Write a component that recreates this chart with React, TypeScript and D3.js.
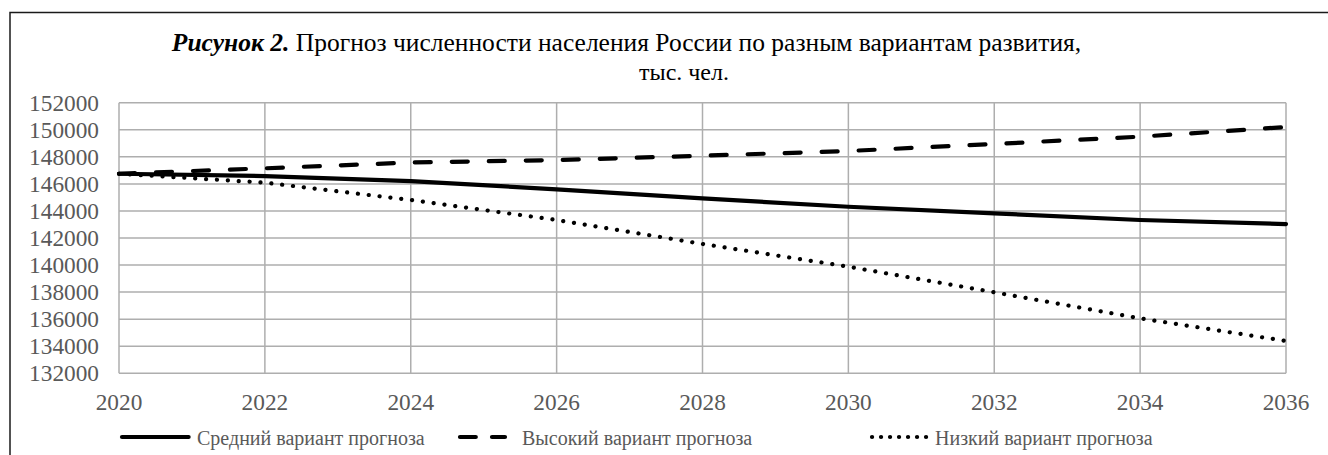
import React from "react";
import * as d3 from "d3";

// годы и значения, тыс. чел.
const years = [2020, 2022, 2024, 2026, 2028, 2030, 2032, 2034, 2036];
const medium = [146750, 146580, 146210, 145600, 144930, 144310, 143820, 143330, 143030];
const high = [146750, 147150, 147580, 147760, 148080, 148430, 148950, 149490, 150200];
const low = [146750, 146090, 144810, 143330, 141560, 139880, 137990, 136060, 134390];

const yTicks = [132000, 134000, 136000, 138000, 140000, 142000, 144000, 146000, 148000, 150000, 152000];
const xTicks = [2020, 2022, 2024, 2026, 2028, 2030, 2032, 2034, 2036];

const titleBold = "Рисунок 2.";
const titleRest = " Прогноз численности населения России по разным вариантам развития,";
const titleLine2 = "тыс. чел.";

const legendItems = [
  { name: "Средний вариант прогноза", dash: null },
  { name: "Высокий вариант прогноза", dash: "dash" },
  { name: "Низкий вариант прогноза", dash: "dot" },
];

const W = 1328;
const H = 455;
const FONT = '"Liberation Serif", "Times New Roman", Tinos, "DejaVu Serif", serif';

const dashStyle = (d: string | null) =>
  d === "dash" ? "16 21" : d === "dot" ? "0.1 10.8" : undefined;

export default function App() {
  const x = d3.scaleLinear().domain([2020, 2036]).range([119, 1286]);
  const y = d3.scaleLinear().domain([132000, 152000]).range([373.3, 102.7]);

  const line = d3
    .line<number>()
    .x((_, i) => x(years[i]))
    .y((v) => y(v));

  const series = [
    { values: medium, dash: null },
    { values: high, dash: "dash" },
    { values: low, dash: "dot" },
  ];

  // легенда: отрезок-образец и подпись
  const legend = [
    { x1: 122, x2: 188.6, text: 197, dash: undefined },
    { x1: 460, x2: 505, text: 522, dash: "15.8 16.2" },
    { x1: 872, x2: 926.1, text: 935, dash: "0.1 8.9" },
  ];
  const legendY = 437;

  return (
    <svg
      width={W}
      height={H}
      style={{ position: "absolute", left: 0, top: 0, background: "#fff", fontFamily: FONT }}
    >
      <rect x={10} y={12.5} width={W} height={H} fill="#fff" stroke="#1a1a1a" strokeWidth={1.5} />

      <text x={626.5} y={51} textAnchor="middle" fontSize={25.5} fill="#000">
        <tspan fontWeight="bold" fontStyle="italic">{titleBold}</tspan>
        <tspan>{titleRest}</tspan>
      </text>
      <text x={684} y={80} textAnchor="middle" fontSize={24} fill="#000">
        {titleLine2}
      </text>

      {/* сетка */}
      <g stroke="#aeaeae" strokeWidth={1.5}>
        {yTicks.map((t) => (
          <line key={t} x1={x(2020)} x2={x(2036)} y1={y(t)} y2={y(t)} />
        ))}
        {xTicks.map((t) => (
          <line key={t} x1={x(t)} x2={x(t)} y1={y(132000)} y2={y(152000)} />
        ))}
      </g>

      <g fill="#595959" fontSize={23.3}>
        {yTicks.map((t) => (
          <text key={t} x={99} y={y(t) + 8} textAnchor="end">
            {t}
          </text>
        ))}
        {xTicks.map((t) => (
          <text key={t} x={x(t)} y={410} textAnchor="middle">
            {t}
          </text>
        ))}
      </g>

      {series.map((s, i) => (
        <path
          key={i}
          d={line(s.values) || ""}
          fill="none"
          stroke="#000"
          strokeWidth={4.2}
          strokeLinecap="round"
          strokeLinejoin="round"
          strokeDasharray={dashStyle(s.dash)}
        />
      ))}

      {legendItems.map((it, i) => (
        <g key={it.name}>
          <line
            x1={legend[i].x1}
            x2={legend[i].x2}
            y1={legendY}
            y2={legendY}
            stroke="#000"
            strokeWidth={4.2}
            strokeLinecap="round"
            strokeDasharray={legend[i].dash}
          />
          <text x={legend[i].text} y={legendY + 7.5} fontSize={20} fill="#595959">
            {it.name}
          </text>
        </g>
      ))}
    </svg>
  );
}
